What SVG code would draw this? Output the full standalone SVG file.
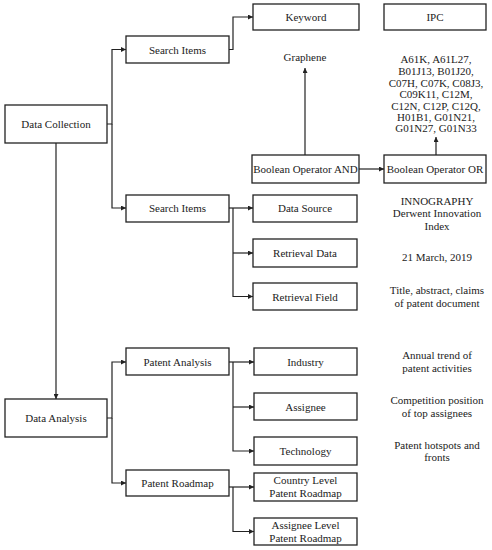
<svg xmlns="http://www.w3.org/2000/svg" width="492" height="550" viewBox="0 0 492 550">
<style>
.box{fill:#fff;stroke:#222;stroke-width:1.3}
.t{font-family:"Liberation Serif",serif;font-size:11px;fill:#222;text-anchor:middle}
.c{fill:none;stroke:#222;stroke-width:1.2}
</style>
<defs>
<marker id="ar" viewBox="0 0 8 8" refX="8" refY="4" markerWidth="5" markerHeight="5" orient="auto" markerUnits="userSpaceOnUse">
<path d="M0,0 L8,4 L0,8 z" fill="#222"/>
</marker>
</defs>
<rect width="492" height="550" fill="#fff"/>
<g id="connectors">
<path class="c" d="M56,143 V399" marker-end="url(#ar)"/>
<path class="c" d="M107,124 H112 V49.5 H126" marker-end="url(#ar)"/>
<path class="c" d="M112,124 V208 H126" marker-end="url(#ar)"/>
<path class="c" d="M229,49.5 H233 V17 H253" marker-end="url(#ar)"/>
<path class="c" d="M305,155 V68" marker-end="url(#ar)"/>
<path class="c" d="M436,155 V137" marker-end="url(#ar)"/>
<path class="c" d="M359,169 H384" marker-end="url(#ar)"/>
<path class="c" d="M229,208 H253" marker-end="url(#ar)"/>
<path class="c" d="M233,208 V296.5 H253" marker-end="url(#ar)"/>
<path class="c" d="M233,253 H253" marker-end="url(#ar)"/>
<path class="c" d="M107,418 H112 V362 H126" marker-end="url(#ar)"/>
<path class="c" d="M112,418 V483 H126" marker-end="url(#ar)"/>
<path class="c" d="M229,362 H254" marker-end="url(#ar)"/>
<path class="c" d="M233,362 V451 H254" marker-end="url(#ar)"/>
<path class="c" d="M233,407 H254" marker-end="url(#ar)"/>
<path class="c" d="M229,487 H254" marker-end="url(#ar)"/>
<path class="c" d="M233,487 V531.5 H254" marker-end="url(#ar)"/>
</g>
<g id="data-collection"><rect class="box" x="5" y="105" width="102" height="38"/><text class="t" x="56" y="128">Data Collection</text></g>
<g id="data-analysis"><rect class="box" x="5" y="399" width="102" height="38"/><text class="t" x="56" y="422">Data Analysis</text></g>
<g id="search-items-1"><rect class="box" x="126" y="36" width="103" height="27"/><text class="t" x="177.5" y="53.5">Search Items</text></g>
<g id="search-items-2"><rect class="box" x="126" y="195" width="103" height="27"/><text class="t" x="177.5" y="212">Search Items</text></g>
<g id="keyword"><rect class="box" x="253" y="4" width="106" height="26"/><text class="t" x="306" y="21">Keyword</text></g>
<g id="ipc"><rect class="box" x="384" y="4" width="102" height="26"/><text class="t" x="435" y="21">IPC</text></g>
<g id="graphene"><text class="t" x="305" y="61">Graphene</text></g>
<g id="ipc-codes">
<text class="t" x="436" y="63">A61K, A61L27,</text>
<text class="t" x="436" y="75">B01J13, B01J20,</text>
<text class="t" x="436" y="86.5">C07H, C07K, C08J3,</text>
<text class="t" x="436" y="98">C09K11, C12M,</text>
<text class="t" x="436" y="110">C12N, C12P, C12Q,</text>
<text class="t" x="436" y="121">H01B1, G01N21,</text>
<text class="t" x="436" y="132">G01N27, G01N33</text>
</g>
<g id="bool-and"><rect class="box" x="252" y="155" width="107" height="28"/><text class="t" x="305.5" y="173">Boolean Operator AND</text></g>
<g id="bool-or"><rect class="box" x="384" y="155" width="102" height="28"/><text class="t" x="435" y="173">Boolean Operator OR</text></g>
<g id="data-source"><rect class="box" x="253" y="195" width="104" height="27"/><text class="t" x="305" y="212">Data Source</text></g>
<g id="retrieval-data"><rect class="box" x="253" y="239" width="104" height="28"/><text class="t" x="305" y="257">Retrieval Data</text></g>
<g id="retrieval-field"><rect class="box" x="253" y="283" width="104" height="27"/><text class="t" x="305" y="300.5">Retrieval Field</text></g>
<g id="source-text">
<text class="t" x="437" y="205">INNOGRAPHY</text>
<text class="t" x="437" y="217">Derwent Innovation</text>
<text class="t" x="437" y="230">Index</text>
</g>
<g id="date-text"><text class="t" x="437" y="261">21 March, 2019</text></g>
<g id="field-text">
<text class="t" x="437" y="294">Title, abstract, claims</text>
<text class="t" x="437" y="307">of patent document</text>
</g>
<g id="patent-analysis"><rect class="box" x="126" y="348" width="103" height="27"/><text class="t" x="177.5" y="365.5">Patent Analysis</text></g>
<g id="patent-roadmap"><rect class="box" x="126" y="470" width="103" height="26"/><text class="t" x="177.5" y="487">Patent Roadmap</text></g>
<g id="industry"><rect class="box" x="254" y="348" width="103" height="27"/><text class="t" x="305.5" y="365.5">Industry</text></g>
<g id="assignee"><rect class="box" x="254" y="393" width="103" height="27"/><text class="t" x="305.5" y="410.5">Assignee</text></g>
<g id="technology"><rect class="box" x="254" y="437" width="103" height="28"/><text class="t" x="305.5" y="455">Technology</text></g>
<g id="country-level"><rect class="box" x="254" y="473" width="103" height="28"/><text class="t" x="305.5" y="484">Country Level</text><text class="t" x="305.5" y="497">Patent Roadmap</text></g>
<g id="assignee-level"><rect class="box" x="254" y="518" width="103" height="27"/><text class="t" x="305.5" y="529">Assignee Level</text><text class="t" x="305.5" y="542">Patent Roadmap</text></g>
<g id="industry-text"><text class="t" x="437" y="359">Annual trend of</text><text class="t" x="437" y="372">patent activities</text></g>
<g id="assignee-text"><text class="t" x="437" y="404">Competition position</text><text class="t" x="437" y="417">of top assignees</text></g>
<g id="technology-text"><text class="t" x="437" y="449">Patent hotspots and</text><text class="t" x="437" y="461">fronts</text></g>
</svg>
